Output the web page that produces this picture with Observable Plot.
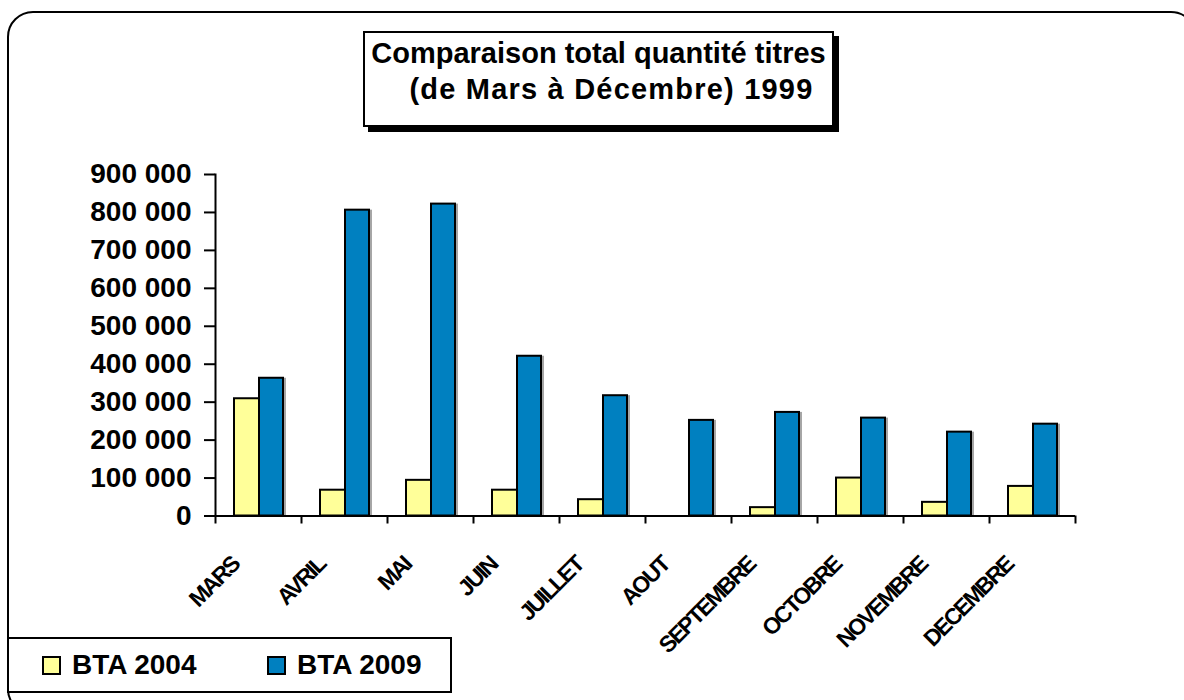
<!DOCTYPE html>
<html>
<head>
<meta charset="utf-8">
<script src="https://cdn.jsdelivr.net/npm/d3@7"></script>
<script src="https://cdn.jsdelivr.net/npm/@observablehq/plot@0.6"></script>
<style>
  html, body { margin: 0; padding: 0; background: #fff; overflow: hidden; }
  body { width: 1184px; height: 700px; position: relative; font-family: "Liberation Sans", Arial, sans-serif; }
  #chart { position: absolute; left: 0; top: 0; }
  #frame { position: absolute; left: 7px; top: 11px; width: 1186px; height: 700px; border: 2px solid #000; border-radius: 26px; pointer-events: none; }
  #title { position: absolute; left: 363px; top: 31px; width: 467px; height: 90px; border: 2px solid #000; background: #fff; box-shadow: 5px 5px 0 #000; text-align: center; font-weight: bold; font-size: 29px; line-height: 36px; padding-top: 2px; box-sizing: content-box; color: #000; white-space: nowrap; }
  #title .l2 { padding-left: 26px; letter-spacing: 1.2px; }
  #legend { position: absolute; left: 7px; top: 637px; width: 441px; height: 52px; border: 2px solid #000; background: #fff; font-weight: bold; font-size: 28px; color: #000; }
  .item { position: absolute; top: 0; height: 52px; line-height: 52px; white-space: nowrap; }
  .sw { position: absolute; top: 17px; width: 15px; height: 15px; border: 2px solid #000; }
  g[aria-label="x-axis tick label"] text { letter-spacing: -2px; }
</style>
</head>
<body>
<div id="chart"></div>
<div id="frame"></div>
<div id="title"><div>Comparaison total quantité titres</div><div class="l2">(de Mars à Décembre) 1999</div></div>
<div id="legend"></div>
<script>
const months = ["MARS", "AVRIL", "MAI", "JUIN", "JUILLET", "AOUT", "SEPTEMBRE", "OCTOBRE", "NOVEMBRE", "DECEMBRE"];
const bta2004 = [309000, 68000, 94000, 68000, 43000, 0, 22000, 100000, 36000, 78000];
const bta2009 = [363000, 806000, 822000, 421000, 317000, 252000, 273000, 258000, 221000, 242000];
const seriesNames = ["BTA 2004", "BTA 2009"];
const seriesColors = ["#FFFF99", "#0080C0"];
const yTicks = [0, 100000, 200000, 300000, 400000, 500000, 600000, 700000, 800000, 900000];

const rows = months.map((m, i) => ({month: m, v04: bta2004[i], v09: bta2009[i]}));
const fmt = d => d3.format(",")(d).replace(/,/g, " ");
const bandHalf = 43;

const plot = Plot.plot({
  width: 1184,
  height: 700,
  marginLeft: 215,
  marginRight: 109,
  marginTop: 174,
  marginBottom: 184.5,
  style: {background: "transparent", fontFamily: "'Liberation Sans', Arial, sans-serif", color: "#000"},
  x: {domain: months, padding: 0},
  y: {domain: [0, 900000]},
  marks: [
    Plot.barY(rows.filter(d => d.v04 > 0), {x: "month", y: "v04", fill: "#a6a6a6", insetLeft: 19, insetRight: 42, dx: 3}),
    Plot.barY(rows, {x: "month", y: "v09", fill: "#a6a6a6", insetLeft: 44, insetRight: 18, dx: 3}),
    Plot.barY(rows.filter(d => d.v04 > 0), {x: "month", y: "v04", fill: seriesColors[0], stroke: "#000", strokeWidth: 2, insetLeft: 19, insetRight: 42}),
    Plot.barY(rows, {x: "month", y: "v09", fill: seriesColors[1], stroke: "#000", strokeWidth: 2, insetLeft: 44, insetRight: 18}),
    Plot.frame({anchor: "left", stroke: "#000", strokeWidth: 2}),
    Plot.ruleY([0], {stroke: "#000", strokeWidth: 2}),
    Plot.axisY({ticks: yTicks, tickFormat: fmt, tickSize: 11, tickPadding: 13, fontSize: 28, fontWeight: "bold", strokeWidth: 2, label: null}),
    Plot.axisX({tickSize: 8, text: null, dx: -bandHalf, strokeWidth: 2, label: null}),
    Plot.axisX({ticks: [months[months.length - 1]], tickSize: 8, text: null, dx: bandHalf, strokeWidth: 2, label: null}),
    Plot.axisX({tickSize: 0, tickRotate: -45, fontSize: 23, fontWeight: "bold", dx: -23, dy: 33, label: null})
  ]
});
document.getElementById("chart").appendChild(plot);

const legend = document.getElementById("legend");
const legendX = [33, 258];
seriesNames.forEach((name, i) => {
  const it = document.createElement("div");
  it.className = "item";
  it.style.left = legendX[i] + "px";
  it.innerHTML = `<span class="sw" style="left:0;background:${seriesColors[i]}"></span><span style="margin-left:30px">${name}</span>`;
  legend.appendChild(it);
});
</script>
</body>
</html>
